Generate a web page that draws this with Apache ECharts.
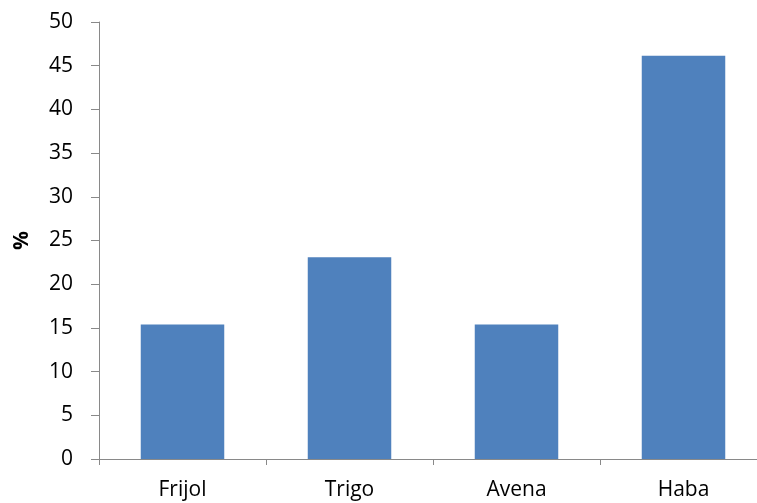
<!DOCTYPE html>
<html>
<head>
<meta charset="utf-8">
<script src="https://cdn.jsdelivr.net/npm/echarts@6/dist/echarts.min.js"></script>
<style>html,body{margin:0;padding:0;background:#fff;overflow:hidden;width:757px;height:503px}#c{width:780px;height:503px}</style>
</head>
<body>
<div id="c"></div>
<script>
const categories = ["Frijol", "Trigo", "Avena", "Haba"];
const values = [15.38, 23.08, 15.38, 46.15];
const yTicks = [0, 5, 10, 15, 20, 25, 30, 35, 40, 45, 50];
const yTitle = "%";

const chart = echarts.init(document.getElementById('c'), null, {renderer: 'canvas'});
const font = "'Open Sans', sans-serif";
chart.setOption({
  animation: false,
  grid: {left: 99, top: 22, height: 437, width: 668, containLabel: false},
  xAxis: {
    type: 'category',
    data: categories,
    axisLine: {lineStyle: {color: '#898989', width: 1}},
    axisTick: {show: true, length: 6, alignWithLabel: false, lineStyle: {color: '#898989'}},
    axisLabel: {color: '#000', fontSize: 21, fontFamily: font, margin: 21}
  },
  yAxis: {
    type: 'value',
    min: yTicks[0], max: yTicks[yTicks.length - 1], interval: 5,
    name: yTitle,
    nameLocation: 'middle',
    nameGap: 66,
    nameRotate: 90,
    nameTextStyle: {color: '#000', fontSize: 21, fontWeight: 'bold', fontFamily: font},
    axisLine: {show: true, lineStyle: {color: '#898989', width: 1}},
    axisTick: {show: true, length: 8, lineStyle: {color: '#898989'}},
    splitLine: {show: false},
    axisLabel: {color: '#000', fontSize: 21, fontFamily: font, margin: 26}
  },
  series: [{
    type: 'bar',
    data: values,
    barWidth: '50%',
    itemStyle: {color: '#4F81BD'}
  }]
});
</script>
</body>
</html>
